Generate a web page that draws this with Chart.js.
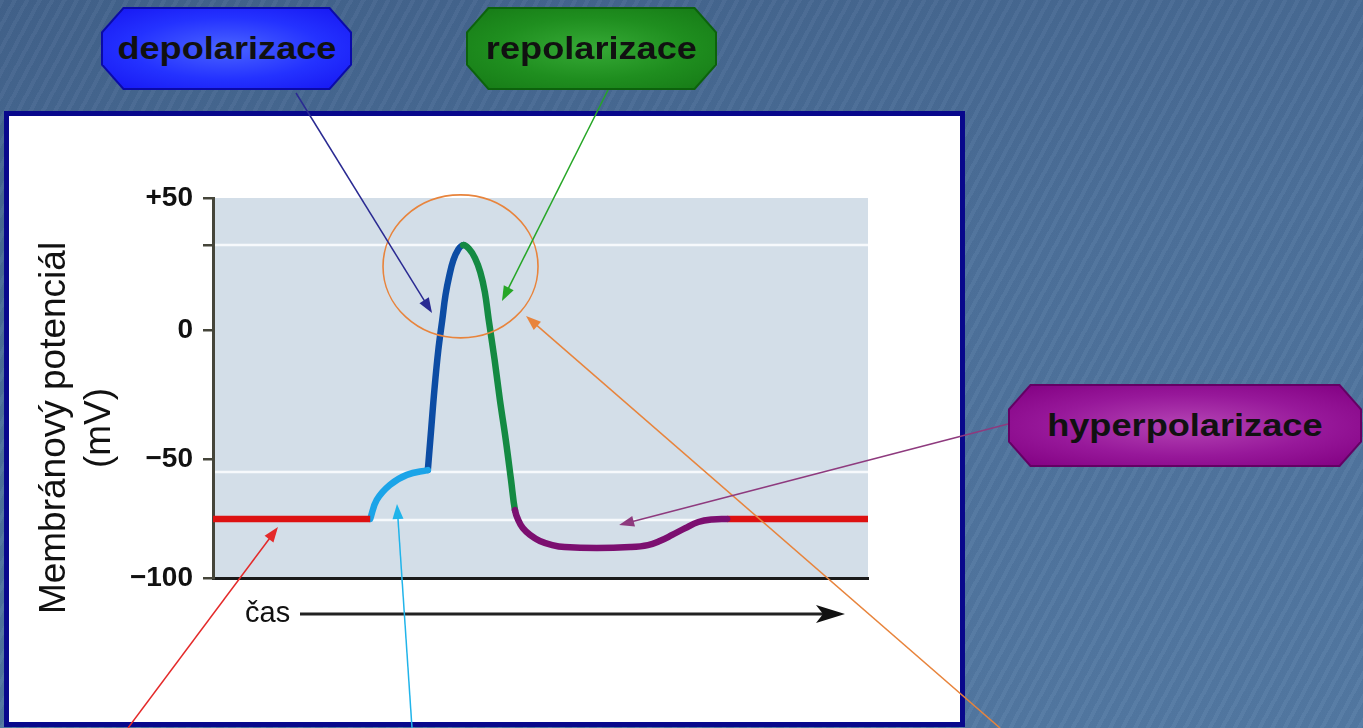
<!DOCTYPE html>
<html lang="cs">
<head>
<meta charset="utf-8">
<title>Akční potenciál</title>
<script src="https://cdn.jsdelivr.net/npm/chart.js@4.4.1/dist/chart.umd.min.js"></script>
<style>
  html, body { margin: 0; padding: 0; }
  body {
    width: 1363px; height: 728px; overflow: hidden; position: relative;
    font-family: "Liberation Sans", Arial, sans-serif;
    background:
      repeating-linear-gradient(118deg, rgba(255,255,255,0.035) 0 4px, rgba(0,0,0,0.025) 4px 11px),
      linear-gradient(170deg, #42628b 0%, #4d719b 45%, #5379a3 100%);
  }
  #box {
    position: absolute; left: 4px; top: 111px; width: 951px; height: 606px;
    background: #fff; border: 5px solid #08088c;
  }
  #chartWrap { position: absolute; left: 0; top: 0; width: 1363px; height: 728px; }
  .tag {
    position: absolute; height: 83px;
    display: flex; align-items: center; justify-content: center;
    clip-path: polygon(22px 0, calc(100% - 22px) 0, 100% 30%, 100% 70%, calc(100% - 22px) 100%, 22px 100%, 0 70%, 0 30%);
  }
  .tag .in {
    position: absolute; inset: 2px;
    clip-path: polygon(21px 0, calc(100% - 21px) 0, 100% 30%, 100% 70%, calc(100% - 21px) 100%, 21px 100%, 0 70%, 0 30%);
  }
  .tag span {
    position: relative; display: inline-block; transform: scaleX(1.13);
    font-weight: bold; font-size: 32px; color: #111;
  }
</style>
</head>
<body>
<div id="box"></div>
<div id="chartWrap"><canvas id="myChart" width="1363" height="728"></canvas></div>

<div class="tag" style="left:101px; top:7px; width:251px; background:#0a0aa8;">
  <div class="in" style="background: radial-gradient(ellipse at 50% 50%, #4a64ff 0%, #2432ff 55%, #1616f2 100%);"></div>
  <span>depolarizace</span>
</div>
<div class="tag" style="left:466px; top:7px; width:251px; background:#0c620c;">
  <div class="in" style="background: radial-gradient(ellipse at 50% 50%, #36aa36 0%, #1f8e1f 55%, #167a16 100%);"></div>
  <span>repolarizace</span>
</div>
<div class="tag" style="left:1008px; top:384px; width:354px; background:#640064;">
  <div class="in" style="background: radial-gradient(ellipse at 50% 50%, #b444b4 0%, #97189a 55%, #820082 100%);"></div>
  <span>hyperpolarizace</span>
</div>

<script>
// time (arbitrary units 0-100) and membrane potential
const restStartT = [0, 24];
const restStartV = [-76.7, -76.7];
const thresholdT = [24, 25.0, 27.0, 29.6, 32.8];
const thresholdV = [-76.7, -69.2, -63.3, -59.3, -57.4];
const depolT = [32.8, 33.3, 33.8, 34.4, 35.0, 35.5, 36.1, 36.7, 37.4, 38.2];
const depolV = [-57.4, -41.6, -25.8, -10.0, 1.8, 11.7, 19.6, 25.5, 29.5, 31.4];
const repolT = [39.1, 40.0, 40.8, 41.5, 42.1, 43.0, 43.8, 44.7, 45.5, 46.1];
const repolV = [29.9, 26.3, 20.8, 12.9, 1.8, -14.0, -29.7, -45.5, -61.3, -73.2];
const hyperT = [46.6, 47.3, 48.4, 49.9, 51.8, 53.7, 58.6, 63.7, 66.4, 68.2, 70.1, 72.1, 74.1, 76.2, 78.5];
const hyperV = [-77.1, -80.3, -83.0, -85.4, -87.0, -87.8, -88.2, -87.8, -87.0, -85.4, -83.0, -80.3, -77.9, -76.9, -76.7];
const restEndT = [78.5, 100];
const restEndV = [-76.7, -76.7];

// y axis as drawn in the figure
const yTickValues = [50, 31.4, -2.1, -53, -100];
const yTickLabels = ["+50", "", "0", "\u221250", "\u2212100"];
const guideLevels = [31.4, -58.2, -77.1];
const yTitleLines = ["Membránový potenciál", "(mV)"];
const timeLabel = "čas";

const phaseColors = { rest: "#dd1111", threshold: "#1ba4e8", depol: "#0c4ca4", repol: "#148a42", hyper: "#7c0f70" };

// annotation arrows: start in page pixels, tip in data units
const pointers = [
  { from: [296, 93], tip: [33.44, 4.6], color: "#2a2a92" },
  { from: [608, 90], tip: [44.12, 9.3], color: "#26a626" },
  { from: [1000, 728], tip: [47.79, 3.4], color: "#e8843c" },
  { from: [1008, 424], tip: [62.0, -79.1], color: "#8e3a7e" },
  { from: [128, 728], tip: [9.92, -79.9], color: "#e42a2a" },
  { from: [412, 728], tip: [28.09, -70.8], color: "#20b4ea" }
];
const peakCircle = { center: [37.79, 23.0], rx: 77.5, ry: 71.5, color: "#e8843c" };

function toPoints(ts, vs) {
  return ts.map((t, i) => ({ x: t, y: vs[i] }));
}

function segment(ts, vs, color, cap) {
  return {
    data: toPoints(ts, vs),
    borderColor: color,
    borderWidth: 6.5,
    borderCapStyle: cap || "butt",
    pointRadius: 0,
    tension: 0.4,
    fill: false
  };
}

// spike + hyperpolarisation as one smooth line, coloured by phase
const spikeT = depolT.concat(repolT, hyperT);
const spikeV = depolV.concat(repolV, hyperV);
const spike = segment(spikeT, spikeV, phaseColors.depol, "round");
spike.segment = {
  borderColor: (c) => {
    if (c.p0DataIndex < depolT.length - 1) return phaseColors.depol;
    if (c.p0DataIndex < depolT.length + repolT.length - 1) return phaseColors.repol;
    return phaseColors.hyper;
  }
};

function arrowHead(ctx, x0, y0, x1, y1, len, half) {
  const ang = Math.atan2(y1 - y0, x1 - x0);
  ctx.beginPath();
  ctx.moveTo(x1, y1);
  ctx.lineTo(x1 - len * Math.cos(ang) + half * Math.sin(ang), y1 - len * Math.sin(ang) - half * Math.cos(ang));
  ctx.lineTo(x1 - len * Math.cos(ang) - half * Math.sin(ang), y1 - len * Math.sin(ang) + half * Math.cos(ang));
  ctx.closePath();
  ctx.fill();
}

const slideExtras = {
  id: "slideExtras",
  beforeDraw(chart) {
    const { ctx, chartArea: a } = chart;
    ctx.save();
    ctx.fillStyle = "#d3dee8";
    ctx.fillRect(a.left, a.top, a.right - a.left, a.bottom - a.top);
    ctx.restore();
  },
  beforeDatasetsDraw(chart) {
    const { ctx, chartArea: a, scales } = chart;
    ctx.save();
    ctx.strokeStyle = "#f6f9fc";
    ctx.lineWidth = 2.5;
    guideLevels.forEach((v) => {
      const py = scales.y.getPixelForValue(v);
      ctx.beginPath();
      ctx.moveTo(a.left + 2, py);
      ctx.lineTo(a.right, py);
      ctx.stroke();
    });
    ctx.restore();
  },
  afterDraw(chart) {
    const { ctx, chartArea: a, scales } = chart;
    const x = scales.x, y = scales.y;
    ctx.save();

    // y axis title
    ctx.save();
    ctx.translate(a.left - 158, (a.top + a.bottom) / 2 + 40);
    ctx.rotate(-Math.PI / 2);
    ctx.font = '37px "Liberation Sans", Arial, sans-serif';
    ctx.fillStyle = "#111";
    ctx.textAlign = "center";
    ctx.textBaseline = "middle";
    ctx.fillText(yTitleLines[0], 0, 0);
    ctx.fillText(yTitleLines[1], 0, 45);
    ctx.restore();

    // time arrow under the axis
    const ty = a.bottom + 36;
    ctx.font = '29px "Liberation Sans", Arial, sans-serif';
    ctx.fillStyle = "#111";
    ctx.textBaseline = "middle";
    ctx.textAlign = "left";
    ctx.fillText(timeLabel, a.left + 32, ty);
    ctx.strokeStyle = "#222";
    ctx.lineWidth = 3;
    ctx.beginPath();
    ctx.moveTo(a.left + 87, ty);
    ctx.lineTo(a.right - 40, ty);
    ctx.stroke();
    ctx.fillStyle = "#111";
    ctx.beginPath();
    ctx.moveTo(a.right - 23, ty);
    ctx.lineTo(a.right - 52, ty - 9);
    ctx.lineTo(a.right - 45, ty);
    ctx.lineTo(a.right - 52, ty + 9);
    ctx.closePath();
    ctx.fill();

    // circle round the peak
    ctx.strokeStyle = peakCircle.color;
    ctx.lineWidth = 1.6;
    ctx.beginPath();
    ctx.ellipse(x.getPixelForValue(peakCircle.center[0]), y.getPixelForValue(peakCircle.center[1]),
      peakCircle.rx, peakCircle.ry, 0, 0, Math.PI * 2);
    ctx.stroke();

    // pointer arrows
    pointers.forEach((p) => {
      const x0 = p.from[0], y0 = p.from[1];
      const x1 = x.getPixelForValue(p.tip[0]);
      const y1 = y.getPixelForValue(p.tip[1]);
      const ang = Math.atan2(y1 - y0, x1 - x0);
      ctx.strokeStyle = p.color;
      ctx.fillStyle = p.color;
      ctx.lineWidth = 1.5;
      ctx.beginPath();
      ctx.moveTo(x0, y0);
      ctx.lineTo(x1 - 12 * Math.cos(ang), y1 - 12 * Math.sin(ang));
      ctx.stroke();
      arrowHead(ctx, x0, y0, x1, y1, 15, 5.5);
    });

    ctx.restore();
  }
};

const ctx = document.getElementById("myChart");
const myChart = new Chart(ctx, {
  type: "line",
  data: {
    datasets: [
      segment(restStartT, restStartV, phaseColors.rest),
      segment(thresholdT, thresholdV, phaseColors.threshold, "round"),
      spike,
      segment(restEndT, restEndV, phaseColors.rest)
    ]
  },
  options: {
    responsive: false,
    animation: false,
    layout: { padding: { left: 0, top: 198, right: 495, bottom: 150 } },
    plugins: { legend: { display: false }, tooltip: { enabled: false } },
    scales: {
      x: {
        type: "linear",
        min: 0,
        max: 100,
        ticks: { display: false },
        grid: { display: false },
        border: { display: true, color: "#1a1a1a", width: 3 },
        afterFit: (s) => { s.height = 0; }
      },
      y: {
        type: "linear",
        min: -100,
        max: 50,
        afterFit: (s) => { s.width = 213; },
        afterBuildTicks: (s) => { s.ticks = yTickValues.map((v) => ({ value: v })); },
        ticks: {
          autoSkip: false,
          color: "#111",
          padding: 10,
          font: { family: '"Liberation Sans", Arial, sans-serif', weight: "bold", size: 28 },
          callback: (value, index) => yTickLabels[index]
        },
        grid: { drawOnChartArea: false, drawTicks: true, tickLength: 10, color: "#45453a", lineWidth: 2.5 },
        border: { display: true, color: "#45453a", width: 3 }
      }
    }
  },
  plugins: [slideExtras]
});
</script>
</body>
</html>
